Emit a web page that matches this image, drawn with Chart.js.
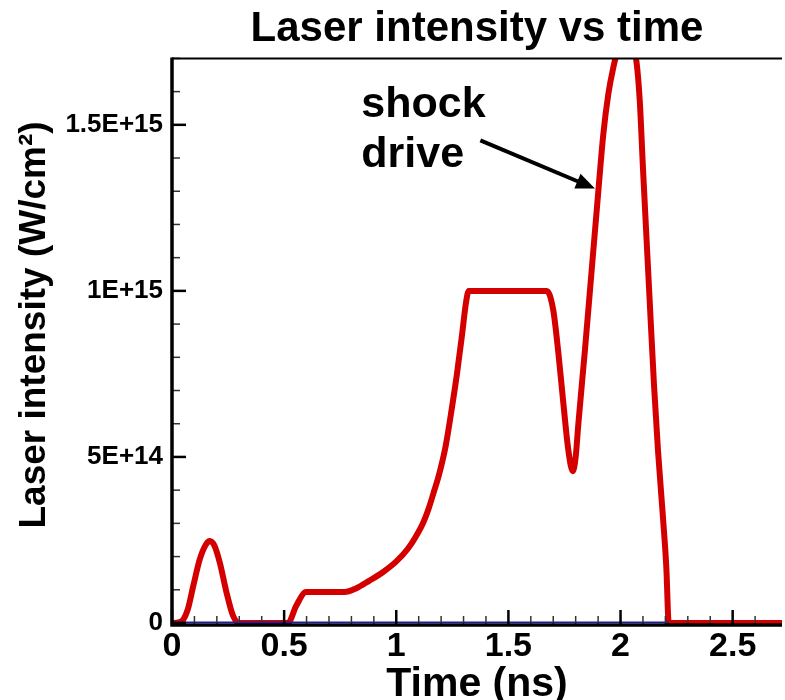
<!DOCTYPE html>
<html>
<head>
<meta charset="utf-8">
<title>Laser intensity vs time</title>
<script src="https://cdn.jsdelivr.net/npm/chart.js@4.4.1/dist/chart.umd.min.js"></script>
<style>
  html, body { margin: 0; padding: 0; background: #fff; overflow: hidden; }
  #wrap { width: 785px; height: 700px; }
</style>
</head>
<body>
<div id="wrap"><canvas id="laserChart" width="785" height="700"></canvas></div>
<script>
// pulse shape: time (ns) and intensity (W/cm^2)
const pulseTime = [
  0, 0.03, 0.05, 0.07, 0.095, 0.124, 0.15, 0.169, 0.19, 0.213, 0.243, 0.272, 0.30, 0.40,
  0.517, 0.554, 0.598, 0.68, 0.77, 0.82, 0.879, 0.94, 0.998, 1.05, 1.087, 1.12, 1.146,
  1.17, 1.19, 1.22, 1.249, 1.271, 1.294, 1.311, 1.323, 1.50, 1.671, 1.70, 1.723, 1.745,
  1.767, 1.787, 1.80, 1.812, 1.841, 1.871, 1.901, 1.923, 1.945, 1.967, 1.99, 2.02, 2.05,
  2.071, 2.086, 2.10, 2.115, 2.13, 2.149, 2.167, 2.189, 2.204, 2.215, 2.50, 2.72
];
const pulseIntensity = [
  0, 2e12, 1e13, 4e13, 1.12e14, 1.92e14, 2.35e14, 2.47e14, 2.32e14, 1.82e14, 9.2e13, 2.2e13, 0, 0,
  0, 5.2e13, 9.3e13, 9.3e13, 9.3e13, 1.04e14, 1.27e14, 1.53e14, 1.84e14, 2.22e14, 2.60e14, 3.02e14, 3.48e14,
  4.0e14, 4.45e14, 5.32e14, 6.52e14, 7.52e14, 8.72e14, 9.65e14, 1e15, 1e15, 1e15, 9.42e14, 8.12e14, 6.62e14,
  5.22e14, 4.57e14, 5.0e14, 6.0e14, 8.2e14, 1.06e15, 1.30e15, 1.47e15, 1.59e15, 1.67e15, 1.73e15, 1.76e15, 1.74e15,
  1.69e15, 1.57e15, 1.37e15, 1.17e15, 9.7e14, 7.2e14, 5.2e14, 3.2e14, 1.7e14, 0, 0, 0
];
// second trace sitting on zero until the pulse ends
const baseTime = [0, 2.215];
const baseIntensity = [0, 0];

// axis ranges and tick spacing
const xRange = [0, 2.72];
const yRange = [0, 1.7e15];
const xMinorStep = 0.1, xMajorStep = 0.5;
const yMinorStep = 1e14, yMajorStep = 5e14;

// "shock drive" note, in data units
const noteLines = ['shock', 'drive'];
const noteTime = 0.844;
const noteBaselines = [1.523e15, 1.373e15];
const arrowFrom = [1.375, 1.453e15];
const arrowTo = [1.886, 1.308e15];

const FONT = "'Liberation Sans', Arial, Helvetica, sans-serif";

function isMultiple(v, step) {
  return Math.abs(v / step - Math.round(v / step)) < 1e-6;
}
function sciLabel(v) {
  if (v === 0) return '0';
  return v.toExponential().replace('e', 'E');
}
function toPoints(xs, ys) {
  return xs.map((x, i) => ({ x: x, y: ys[i] }));
}

// axis frame + inward tick marks, drawn over the curves
const frameTicks = {
  id: 'frameTicks',
  afterDatasetsDraw(chart) {
    const { ctx, chartArea: a, scales: { x, y } } = chart;
    ctx.save();
    ctx.lineCap = 'butt';
    x.ticks.forEach(t => {
      if (!isMultiple(t.value, xMinorStep)) return;
      const major = isMultiple(t.value, xMajorStep);
      const px = x.getPixelForValue(t.value);
      ctx.strokeStyle = major ? '#000' : '#333';
      ctx.lineWidth = major ? 2.5 : 1.5;
      ctx.beginPath();
      ctx.moveTo(px, a.bottom + 1);
      ctx.lineTo(px, a.bottom - (major ? 13 : 7));
      ctx.stroke();
    });
    y.ticks.forEach(t => {
      if (!isMultiple(t.value, yMinorStep)) return;
      const major = isMultiple(t.value, yMajorStep);
      const py = y.getPixelForValue(t.value);
      ctx.strokeStyle = major ? '#000' : '#333';
      ctx.lineWidth = major ? 2.5 : 1.5;
      ctx.beginPath();
      ctx.moveTo(a.left, py);
      ctx.lineTo(a.left + (major ? 14 : 8), py);
      ctx.stroke();
    });
    ctx.strokeStyle = '#000';
    ctx.lineWidth = 3.5;
    ctx.beginPath();
    ctx.moveTo(a.left, a.top - 1);
    ctx.lineTo(a.left, a.bottom + 3.5);
    ctx.moveTo(a.left - 1.5, a.bottom + 2);
    ctx.lineTo(a.right, a.bottom + 2);
    ctx.stroke();
    ctx.lineWidth = 2;
    ctx.beginPath();
    ctx.moveTo(a.left, a.top);
    ctx.lineTo(a.right, a.top);
    ctx.stroke();
    ctx.restore();
  }
};

// y axis title and the arrow note
const notes = {
  id: 'notes',
  afterDraw(chart) {
    const { ctx, scales: { x, y } } = chart;
    ctx.save();
    ctx.fillStyle = '#000';

    ctx.save();
    ctx.translate(35, 325);
    ctx.rotate(-Math.PI / 2);
    ctx.font = 'bold 37px ' + FONT;
    ctx.textAlign = 'center';
    ctx.textBaseline = 'middle';
    ctx.fillText('Laser intensity (W/cm²)', 0, 0);
    ctx.restore();

    ctx.font = 'bold 43px ' + FONT;
    ctx.textAlign = 'left';
    ctx.textBaseline = 'alphabetic';
    noteLines.forEach((s, i) => {
      ctx.fillText(s, x.getPixelForValue(noteTime), y.getPixelForValue(noteBaselines[i]));
    });

    const x0 = x.getPixelForValue(arrowFrom[0]), y0 = y.getPixelForValue(arrowFrom[1]);
    const x1 = x.getPixelForValue(arrowTo[0]), y1 = y.getPixelForValue(arrowTo[1]);
    const ang = Math.atan2(y1 - y0, x1 - x0);
    const headLen = 19, headHalf = 8;
    const bx = x1 - headLen * Math.cos(ang), by = y1 - headLen * Math.sin(ang);
    ctx.strokeStyle = '#000';
    ctx.lineWidth = 4;
    ctx.beginPath();
    ctx.moveTo(x0, y0);
    ctx.lineTo(bx + 2 * Math.cos(ang), by + 2 * Math.sin(ang));
    ctx.stroke();
    ctx.beginPath();
    ctx.moveTo(x1, y1);
    ctx.lineTo(bx - headHalf * Math.sin(ang), by + headHalf * Math.cos(ang));
    ctx.lineTo(bx + headHalf * Math.sin(ang), by - headHalf * Math.cos(ang));
    ctx.closePath();
    ctx.fill();
    ctx.restore();
  }
};

Chart.defaults.font.family = FONT;
Chart.defaults.color = '#000';

new Chart(document.getElementById('laserChart'), {
  type: 'line',
  data: {
    datasets: [
      {
        label: 'base',
        data: toPoints(baseTime, baseIntensity),
        borderColor: '#1c1caa',
        borderWidth: 3,
        pointRadius: 0,
        fill: false
      },
      {
        label: 'Laser intensity',
        data: toPoints(pulseTime, pulseIntensity),
        borderColor: '#d40000',
        borderWidth: 6,
        pointRadius: 0,
        fill: false,
        cubicInterpolationMode: 'monotone',
        clip: { left: 3, top: 0, right: 3, bottom: 3 }
      }
    ]
  },
  options: {
    responsive: false,
    animation: false,
    events: [],
    layout: { padding: 0 },
    plugins: {
      legend: { display: false },
      tooltip: { enabled: false },
      title: {
        display: true,
        text: 'Laser intensity vs time',
        color: '#000',
        fullSize: false,
        font: { size: 42, weight: 'bold' },
        padding: { top: 4, bottom: 4 }
      }
    },
    scales: {
      x: {
        type: 'linear',
        min: xRange[0],
        max: xRange[1],
        afterFit(scale) { scale.height = 77; },
        grid: { display: false, drawTicks: false },
        border: { display: false },
        ticks: {
          stepSize: xMinorStep,
          autoSkip: false,
          maxRotation: 0,
          padding: 3,
          font: { size: 34, weight: 'bold' },
          callback: v => isMultiple(v, xMajorStep) ? String(Math.round(v * 10) / 10) : ''
        },
        title: {
          display: true,
          text: 'Time (ns)',
          font: { size: 41, weight: 'bold', lineHeight: 1 },
          padding: { top: 0, bottom: -5 }
        }
      },
      y: {
        min: yRange[0],
        max: yRange[1],
        afterFit(scale) { scale.width = 172; },
        grid: { display: false, drawTicks: false },
        border: { display: false },
        ticks: {
          stepSize: yMinorStep,
          autoSkip: false,
          padding: 9,
          font: { size: 26, weight: 'bold' },
          callback: v => isMultiple(v, yMajorStep) ? sciLabel(v) : ''
        }
      }
    }
  },
  plugins: [frameTicks, notes]
});
</script>
</body>
</html>
